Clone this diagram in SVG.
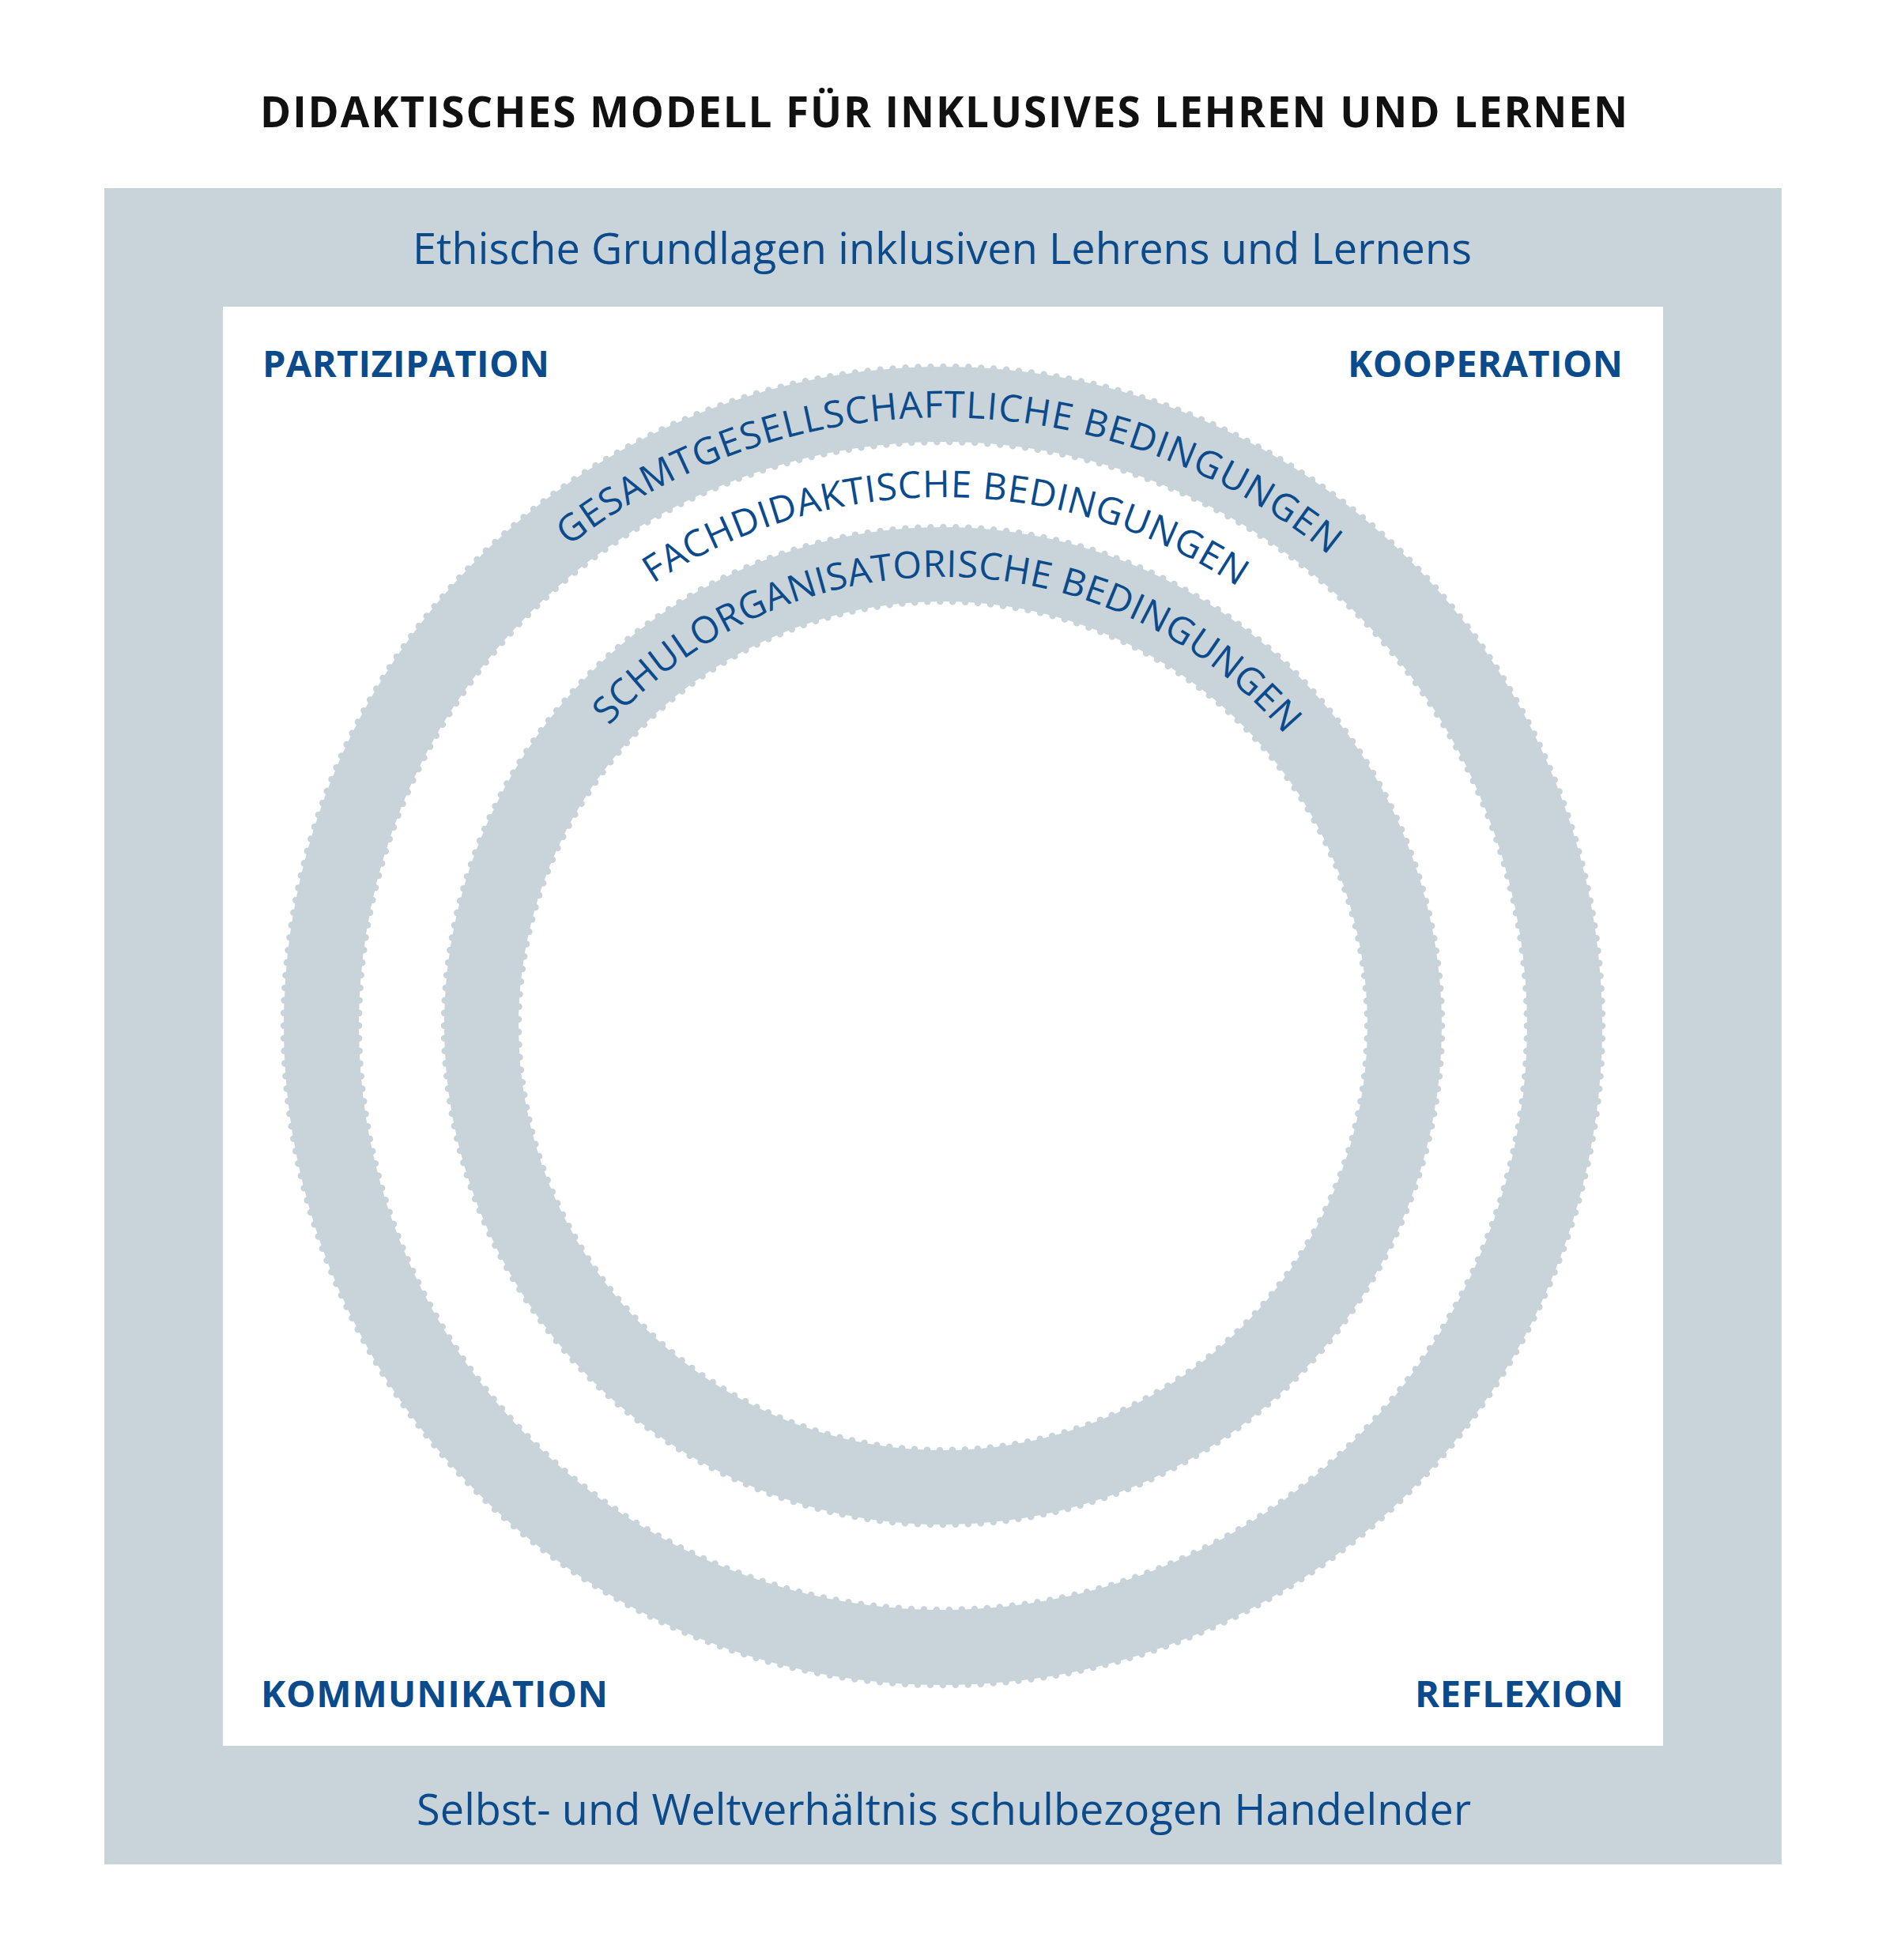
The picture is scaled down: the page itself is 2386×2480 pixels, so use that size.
<svg xmlns="http://www.w3.org/2000/svg" xmlns:xlink="http://www.w3.org/1999/xlink" width="2386" height="2480" viewBox="0 0 2386 2480">
<style>
.title{font-family:"Open Sans","Liberation Sans",sans-serif;font-weight:700;font-size:53px;fill:#111111}
.band{font-family:"Open Sans","Liberation Sans",sans-serif;font-weight:400;font-size:54px;fill:#0b4a8b}
.corner{font-family:"Open Sans","Liberation Sans",sans-serif;font-weight:700;font-size:47px;fill:#0b4a8b}
.arc{font-family:"Open Sans","Liberation Sans",sans-serif;font-weight:400;font-size:47px;fill:#0b4a8b}
.ring{fill:none;stroke:#c8d3da}
.dots{fill:none;stroke:#c8d3da;stroke-width:8.5;stroke-linecap:round}
</style>
<defs>
<path id="pG" d="M 423 1298 A 770 770 0 0 1 1963 1298"/>
<path id="pF" d="M 524 1298 A 669 669 0 0 1 1862 1298"/>
<path id="pS" d="M 625 1298 A 568 568 0 0 1 1761 1298"/>
</defs>
<rect width="2386" height="2480" fill="#ffffff"/>
<g id="title">
<text class="title" x="329" y="161" textLength="1730" lengthAdjust="spacing">DIDAKTISCHES MODELL FÜR INKLUSIVES LEHREN UND LERNEN</text>
</g>
<g id="frame">
<rect x="132" y="238" width="2122" height="2121" fill="#c8d3da"/>
<rect x="282" y="388" width="1822" height="1821" fill="#ffffff"/>
<text class="band" x="522" y="334" textLength="1340" lengthAdjust="spacing">Ethische Grundlagen inklusiven Lehrens und Lernens</text>
<text class="band" x="527" y="2309" textLength="1334" lengthAdjust="spacing">Selbst- und Weltverhältnis schulbezogen Handelnder</text>
</g>
<g id="partizipation"><text class="corner" x="332" y="477" textLength="363" lengthAdjust="spacing">PARTIZIPATION</text></g>
<g id="kooperation"><text class="corner" x="1705" y="477" textLength="348" lengthAdjust="spacing">KOOPERATION</text></g>
<g id="kommunikation"><text class="corner" x="330" y="2160" textLength="439" lengthAdjust="spacing">KOMMUNIKATION</text></g>
<g id="reflexion"><text class="corner" x="1790" y="2160" textLength="264" lengthAdjust="spacing">REFLEXION</text></g>
<g id="ring-gesamtgesellschaftlich">
<circle class="ring" cx="1193" cy="1298" r="786.5" stroke-width="95"/>
<circle class="dots" cx="1193" cy="1298" r="834" stroke-dasharray="0 15.976"/>
<circle class="dots" cx="1193" cy="1298" r="739" stroke-dasharray="0 16.011"/>
<text class="arc"><textPath xlink:href="#pG" href="#pG" startOffset="698.8" textLength="1039" lengthAdjust="spacing">GESAMTGESELLSCHAFTLICHE BEDINGUNGEN</textPath></text>
</g>
<g id="fachdidaktisch">
<text class="arc"><textPath xlink:href="#pF" href="#pF" startOffset="662.4" textLength="784" lengthAdjust="spacing">FACHDIDAKTISCHE BEDINGUNGEN</textPath></text>
</g>
<g id="ring-schulorganisatorisch">
<circle class="ring" cx="1193" cy="1298" r="584" stroke-width="94"/>
<circle class="dots" cx="1193" cy="1298" r="631" stroke-dasharray="0 15.987"/>
<circle class="dots" cx="1193" cy="1298" r="537" stroke-dasharray="0 15.991"/>
<text class="arc"><textPath xlink:href="#pS" href="#pS" startOffset="415.4" textLength="968" lengthAdjust="spacing">SCHULORGANISATORISCHE BEDINGUNGEN</textPath></text>
</g>
<g id="connectors"/>
</svg>
